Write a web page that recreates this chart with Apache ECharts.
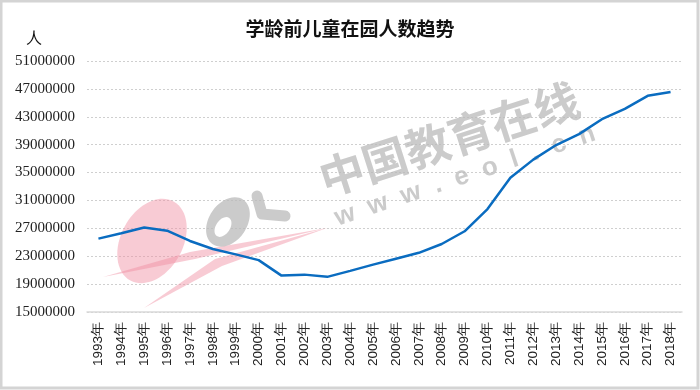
<!DOCTYPE html>
<html><head><meta charset="utf-8">
<script src="https://cdn.jsdelivr.net/npm/echarts@6/dist/echarts.min.js"></script>
<style>html,body{margin:0;padding:0;background:#fff}#c{width:700px;height:390px}</style>
</head><body><div id="c"></div>
<script>
const titleText = "学龄前儿童在园人数趋势";
const unitText = "人";
const years = ["1993年","1994年","1995年","1996年","1997年","1998年","1999年","2000年","2001年","2002年","2003年","2004年","2005年","2006年","2007年","2008年","2009年","2010年","2011年","2012年","2013年","2014年","2015年","2016年","2017年","2018年"];
const children = [25525400,26302600,27112300,26663200,25189600,24030300,23262600,22441800,20218400,20360200,20039100,20894000,21790300,22638500,23488300,24749600,26578100,29766700,34244500,36857600,38946900,40507100,42648300,44138600,46001400,46564200];
const yMin = 15000000, yMax = 51000000, yStep = 4000000;

const chart = echarts.init(document.getElementById('c'), null, {renderer:'canvas'});
const wmGray = 'rgba(185,185,185,0.75)';
const wmPink = 'rgba(240,140,160,0.45)';
chart.setOption({
  backgroundColor:'#fff',
  animation:false,
  title:{text:titleText,left:'center',top:14,textStyle:{fontFamily:'"Noto Sans CJK SC"',fontWeight:'bold',fontSize:19,color:'#111'}},
  grid:{left:87,right:18,top:61,bottom:78,containLabel:false},
  xAxis:{type:'category',data:years,boundaryGap:true,
    axisLine:{lineStyle:{color:'#d9d9d9',width:1.5}},
    axisTick:{show:false},
    axisLabel:{rotate:90,margin:10,interval:0,fontFamily:'"Liberation Sans", Arial',fontSize:13.5,color:'#222'}},
  yAxis:{type:'value',min:yMin,max:yMax,interval:yStep,
    axisLine:{show:false},axisTick:{show:false},
    splitLine:{lineStyle:{color:'#cfcfcf',type:[2,2],width:1}},
    axisLabel:{margin:12,formatter:v=>String(v),fontFamily:'"Liberation Serif", "Times New Roman"',fontSize:15,color:'#222'}},
  graphic:[
    {type:'rect',z:100,shape:{x:1,y:1,width:697,height:387},style:{fill:'none',stroke:'#d4d4d4',lineWidth:3},silent:true},
    {type:'text',left:26,top:30,style:{text:unitText,font:'16px "Noto Sans CJK SC"',fill:'#111'}},
    {type:'ellipse',z:1,x:152,y:241,rotation:-0.5,shape:{cx:0,cy:0,rx:31,ry:45},style:{fill:wmPink},silent:true},
    {type:'polygon',z:1,shape:{points:[[103,277],[190,252],[327,228],[195,259]]},style:{fill:wmPink},silent:true},
    {type:'polygon',z:1,shape:{points:[[144,308],[215,259],[327,228],[222,266]]},style:{fill:wmPink},silent:true},
    {type:'ellipse',z:1,x:228,y:222,rotation:-0.6,shape:{cx:0,cy:0,rx:19,ry:27},style:{fill:wmGray},silent:true},
    {type:'ellipse',z:1,x:223,y:227,rotation:-0.6,shape:{cx:0,cy:0,rx:7,ry:11},style:{fill:'#fff'},silent:true},
    {type:'polyline',z:1,shape:{points:[[257,196],[262,214],[285,216]]},style:{stroke:wmGray,lineWidth:11,lineCap:'round',lineJoin:'round',fill:'none'},silent:true},
    {type:'text',z:1,x:449,y:139,rotation:0.31,style:{text:'中国教育在线',font:'bold 45px "Noto Sans CJK SC"',fill:wmGray,align:'center',verticalAlign:'middle'},silent:true},
    {type:'text',z:1,x:465,y:176,rotation:0.32,style:{text:'w  w  w  .  e  o  l  .  c  n',font:'bold 26px "Liberation Sans"',fill:wmGray,align:'center',verticalAlign:'middle'},silent:true}
  ],
  series:[{type:'line',data:children,showSymbol:false,symbol:'none',smooth:false,z:5,
    lineStyle:{color:'#0a6cc0',width:2.5}}]
});
</script></body></html>
